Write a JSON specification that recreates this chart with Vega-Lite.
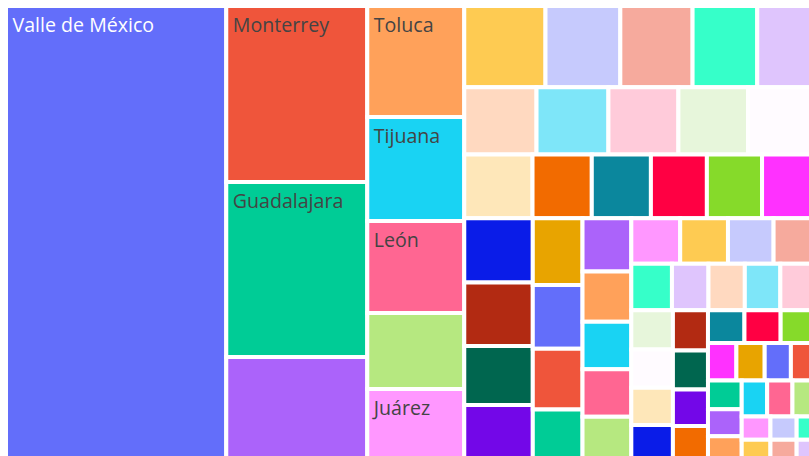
{
  "$schema": "https://vega.github.io/schema/vega-lite/v6.json",
  "width": 809,
  "height": 456,
  "padding": 0,
  "autosize": "none",
  "background": "white",
  "config": {"view": {"stroke": null}},
  "data": {
    "values": [
      {"name": "Valle de México", "value": 21600, "level": 0, "strip": 1},
      {"name": "Monterrey", "value": 5337, "level": 0, "strip": 2},
      {"name": "Guadalajara", "value": 5306, "level": 0, "strip": 2},
      {"name": "Puebla-Tlaxcala", "value": 3184, "level": 0, "strip": 2},
      {"name": "Toluca", "value": 2315, "level": 0, "strip": 3},
      {"name": "Tijuana", "value": 2169, "level": 0, "strip": 3},
      {"name": "León", "value": 1919, "level": 0, "strip": 3},
      {"name": "Querétaro", "value": 1585, "level": 0, "strip": 3},
      {"name": "Juárez", "value": 1524, "level": 0, "strip": 3},
      {"name": "La Laguna", "value": 1421, "level": 1, "strip": 4},
      {"name": "Mérida", "value": 1309, "level": 1, "strip": 4},
      {"name": "San Luis Potosí", "value": 1264, "level": 1, "strip": 4},
      {"name": "Aguascalientes", "value": 1131, "level": 1, "strip": 4},
      {"name": "Mexicali", "value": 993, "level": 1, "strip": 4},
      {"name": "Saltillo", "value": 1045, "level": 1, "strip": 5},
      {"name": "Cuernavaca", "value": 1040, "level": 1, "strip": 5},
      {"name": "Chihuahua", "value": 1012, "level": 1, "strip": 5},
      {"name": "Morelia", "value": 1007, "level": 1, "strip": 5},
      {"name": "Veracruz", "value": 954, "level": 1, "strip": 5},
      {"name": "Cancún", "value": 933, "level": 1, "strip": 6},
      {"name": "Hermosillo", "value": 810, "level": 1, "strip": 6},
      {"name": "Tampico", "value": 808, "level": 1, "strip": 6},
      {"name": "Acapulco", "value": 765, "level": 1, "strip": 6},
      {"name": "Tuxtla Gutiérrez", "value": 754, "level": 1, "strip": 6},
      {"name": "Reynosa", "value": 710, "level": 1, "strip": 6},
      {"name": "Villahermosa", "value": 950, "level": 2, "strip": 7},
      {"name": "Culiacán", "value": 935, "level": 2, "strip": 7},
      {"name": "Xalapa", "value": 869, "level": 2, "strip": 7},
      {"name": "Celaya", "value": 840, "level": 2, "strip": 7},
      {"name": "Oaxaca", "value": 716, "level": 2, "strip": 8},
      {"name": "Durango", "value": 681, "level": 2, "strip": 8},
      {"name": "Pachuca", "value": 650, "level": 2, "strip": 8},
      {"name": "Tlaxcala-Apizaco", "value": 561, "level": 2, "strip": 8},
      {"name": "Matamoros", "value": 559, "level": 2, "strip": 9},
      {"name": "Poza Rica", "value": 527, "level": 2, "strip": 9},
      {"name": "Cuautla", "value": 500, "level": 2, "strip": 9},
      {"name": "Tepic", "value": 498, "level": 2, "strip": 9},
      {"name": "Puerto Vallarta", "value": 475, "level": 2, "strip": 9},
      {"name": "Orizaba", "value": 479, "level": 3, "strip": 10},
      {"name": "Nuevo Laredo", "value": 468, "level": 3, "strip": 10},
      {"name": "Ensenada", "value": 447, "level": 3, "strip": 10},
      {"name": "Zacatecas-Guadalupe", "value": 396, "level": 3, "strip": 10},
      {"name": "Colima", "value": 407, "level": 3, "strip": 11},
      {"name": "Monclova", "value": 366, "level": 3, "strip": 11},
      {"name": "Córdoba", "value": 364, "level": 3, "strip": 11},
      {"name": "Coatzacoalcos", "value": 356, "level": 3, "strip": 11},
      {"name": "Minatitlán", "value": 337, "level": 3, "strip": 11},
      {"name": "Tehuacán", "value": 350, "level": 4, "strip": 12},
      {"name": "San Juan del Río", "value": 342, "level": 4, "strip": 12},
      {"name": "Zamora", "value": 335, "level": 4, "strip": 12},
      {"name": "Campeche", "value": 330, "level": 4, "strip": 12},
      {"name": "Guanajuato", "value": 303, "level": 4, "strip": 13},
      {"name": "Chilpancingo", "value": 295, "level": 4, "strip": 13},
      {"name": "Tulancingo", "value": 275, "level": 4, "strip": 13},
      {"name": "La Piedad", "value": 271, "level": 4, "strip": 13},
      {"name": "Piedras Negras", "value": 256, "level": 5, "strip": 14},
      {"name": "Guaymas", "value": 254, "level": 5, "strip": 14},
      {"name": "Tula", "value": 234, "level": 5, "strip": 14},
      {"name": "Tehuantepec", "value": 230, "level": 5, "strip": 15},
      {"name": "Tecomán", "value": 229, "level": 5, "strip": 15},
      {"name": "Ocotlán", "value": 212, "level": 5, "strip": 15},
      {"name": "Delicias", "value": 187, "level": 5, "strip": 15},
      {"name": "Teziutlán", "value": 209, "level": 6, "strip": 16},
      {"name": "Rioverde", "value": 195, "level": 6, "strip": 16},
      {"name": "Acayucan", "value": 187, "level": 6, "strip": 16},
      {"name": "Moroleón", "value": 196, "level": 7, "strip": 17},
      {"name": "Hidalgo del Parral", "value": 195, "level": 7, "strip": 17},
      {"name": "Tianguistenco", "value": 166, "level": 7, "strip": 17},
      {"name": "San Francisco del Rincón", "value": 144, "level": 8, "strip": 18},
      {"name": "Sabinas", "value": 138, "level": 8, "strip": 18},
      {"name": "Nogales", "value": 131, "level": 8, "strip": 19},
      {"name": "Salamanca", "value": 126, "level": 8, "strip": 19},
      {"name": "Tecate", "value": 97, "level": 8, "strip": 20},
      {"name": "Navojoa", "value": 93, "level": 8, "strip": 20}
    ]
  },
  "transform": [
    {"joinaggregate": [{"op": "sum", "field": "value", "as": "stripSum"}], "groupby": ["strip"]},
    {"stack": "value", "groupby": ["strip"], "sort": [{"field": "value", "order": "descending"}], "as": ["s0", "s1"]},
    {"stack": "value", "groupby": ["level"], "sort": [{"field": "strip", "order": "ascending"}, {"field": "value", "order": "descending"}], "as": ["c0", "c1"]},
    {"calculate": "datum.level == 0 ? datum.value : 0", "as": "v0"},
    {"calculate": "datum.level == 1 ? datum.value : 0", "as": "v1"},
    {"calculate": "datum.level == 2 ? datum.value : 0", "as": "v2"},
    {"calculate": "datum.level == 3 ? datum.value : 0", "as": "v3"},
    {"calculate": "datum.level == 4 ? datum.value : 0", "as": "v4"},
    {"calculate": "datum.level == 5 ? datum.value : 0", "as": "v5"},
    {"calculate": "datum.level == 6 ? datum.value : 0", "as": "v6"},
    {"calculate": "datum.level == 7 ? datum.value : 0", "as": "v7"},
    {"joinaggregate": [
      {"op": "sum", "field": "v0", "as": "S0"},
      {"op": "sum", "field": "v1", "as": "S1"},
      {"op": "sum", "field": "v2", "as": "S2"},
      {"op": "sum", "field": "v3", "as": "S3"},
      {"op": "sum", "field": "v4", "as": "S4"},
      {"op": "sum", "field": "v5", "as": "S5"},
      {"op": "sum", "field": "v6", "as": "S6"},
      {"op": "sum", "field": "v7", "as": "S7"}
    ]},
    {"calculate": "808 - datum.S0 * 4.65 / 456", "as": "W1"},
    {"calculate": "456 - datum.S1 * 4.65 / datum.W1", "as": "H2"},
    {"calculate": "datum.W1 - datum.S2 * 4.65 / datum.H2", "as": "W3"},
    {"calculate": "datum.H2 - datum.S3 * 4.65 / datum.W3", "as": "H4"},
    {"calculate": "datum.W3 - datum.S4 * 4.65 / datum.H4", "as": "W5"},
    {"calculate": "datum.H4 - datum.S5 * 4.65 / datum.W5", "as": "H6"},
    {"calculate": "datum.W5 - datum.S6 * 4.65 / datum.H6", "as": "W7"},
    {"calculate": "datum.H6 - datum.S7 * 4.65 / datum.W7", "as": "H8"},
    {"calculate": "[808, datum.W1, datum.W1, datum.W3, datum.W3, datum.W5, datum.W5, datum.W7, datum.W7][datum.level]", "as": "RW"},
    {"calculate": "[456, 456, datum.H2, datum.H2, datum.H4, datum.H4, datum.H6, datum.H6, datum.H8][datum.level]", "as": "RH"},
    {"calculate": "6 + 808 - datum.RW", "as": "RX"},
    {"calculate": "6 + 456 - datum.RH", "as": "RY"},
    {"calculate": "datum.c0 - datum.s0", "as": "off"},
    {"calculate": "datum.level % 2 == 0 ? datum.RX + datum.off * 4.65 / datum.RH : datum.RX + datum.s0 / datum.stripSum * datum.RW", "as": "x0"},
    {"calculate": "datum.level % 2 == 0 ? datum.RX + (datum.off + datum.stripSum) * 4.65 / datum.RH : datum.RX + datum.s1 / datum.stripSum * datum.RW", "as": "x1"},
    {"calculate": "datum.level % 2 == 0 ? datum.RY + datum.s0 / datum.stripSum * datum.RH : datum.RY + datum.off * 4.65 / datum.RW", "as": "y0"},
    {"calculate": "datum.level % 2 == 0 ? datum.RY + datum.s1 / datum.stripSum * datum.RH : datum.RY + (datum.off + datum.stripSum) * 4.65 / datum.RW", "as": "y1"}
  ],
  "encoding": {
    "x": {"field": "x0", "type": "quantitative", "axis": null, "scale": {"domain": [0, 809], "nice": false, "zero": false}},
    "y": {"field": "y0", "type": "quantitative", "axis": null, "scale": {"domain": [0, 456], "nice": false, "zero": false, "reverse": true}}
  },
  "layer": [
    {
      "mark": {"type": "rect", "stroke": "white", "strokeWidth": 4, "clip": true},
      "encoding": {
        "x2": {"field": "x1"},
        "y2": {"field": "y1"},
        "color": {
          "field": "name",
          "type": "nominal",
          "legend": null,
          "scale": {
            "domain": ["Valle de México", "Monterrey", "Guadalajara", "Puebla-Tlaxcala", "Toluca", "Tijuana", "León", "Querétaro", "Juárez",
              "La Laguna", "Mérida", "San Luis Potosí", "Aguascalientes", "Mexicali",
              "Saltillo", "Cuernavaca", "Chihuahua", "Morelia", "Veracruz",
              "Cancún", "Hermosillo", "Tampico", "Acapulco", "Tuxtla Gutiérrez", "Reynosa",
              "Villahermosa", "Culiacán", "Xalapa", "Celaya",
              "Oaxaca", "Durango", "Pachuca", "Tlaxcala-Apizaco",
              "Matamoros", "Poza Rica", "Cuautla", "Tepic", "Puerto Vallarta",
              "Orizaba", "Nuevo Laredo", "Ensenada", "Zacatecas-Guadalupe",
              "Colima", "Monclova", "Córdoba", "Coatzacoalcos", "Minatitlán",
              "Tehuacán", "San Juan del Río", "Zamora", "Campeche",
              "Guanajuato", "Chilpancingo", "Tulancingo", "La Piedad",
              "Piedras Negras", "Guaymas", "Tula",
              "Tehuantepec", "Tecomán", "Ocotlán", "Delicias",
              "Teziutlán", "Rioverde", "Acayucan",
              "Moroleón", "Hidalgo del Parral", "Tianguistenco",
              "San Francisco del Rincón", "Sabinas", "Nogales", "Salamanca", "Tecate", "Navojoa"],
            "range": ["#636efa", "#EF553B", "#00CC96", "#AB63FA", "#FFA15A", "#19D3F3", "#FF6692", "#B6E880", "#FF97FF",
              "#FECB52", "#C6CAFD", "#F6AA9D", "#36FFC9", "#DFC5FD",
              "#FFD9C0", "#7EE6F9", "#FFCBDA", "#E7F6DB", "#FFFBFF",
              "#FEE7B9", "#F26B00", "#0B879D", "#FF0043", "#86DA2A", "#FF31FF",
              "#0A1CE8", "#B22A12", "#00664F", "#7307E8",
              "#E8A400", "#636EFA", "#EF553B", "#00CC96",
              "#AB63FA", "#FFA15A", "#19D3F3", "#FF6692", "#B6E880",
              "#FF97FF", "#FECB52", "#C6CAFD", "#F6AA9D",
              "#36FFC9", "#DFC5FD", "#FFD9C0", "#7EE6F9", "#FFCBDA",
              "#E7F6DB", "#FFFBFF", "#FEE7B9", "#0A1CE8",
              "#B22A12", "#00664F", "#7307E8", "#F26B00",
              "#0B879D", "#FF0043", "#86DA2A",
              "#FF31FF", "#E8A400", "#636EFA", "#EF553B",
              "#00CC96", "#AB63FA", "#FFA15A",
              "#19D3F3", "#FF6692", "#B6E880",
              "#FF97FF", "#FECB52", "#C6CAFD", "#F6AA9D", "#36FFC9", "#DFC5FD"]
          }
        }
      }
    },
    {
      "transform": [{"filter": {"field": "name", "oneOf": ["Valle de México", "Monterrey", "Guadalajara", "Toluca", "Tijuana", "León", "Juárez"]}}],
      "mark": {"type": "text", "align": "left", "baseline": "alphabetic", "dx": 6.5, "dy": 26, "font": "Open Sans", "fontSize": 19.6},
      "encoding": {
        "text": {"field": "name", "type": "nominal"},
        "color": {"condition": {"test": "datum.name == 'Valle de México'", "value": "white"}, "value": "#444444"}
      }
    }
  ]
}
